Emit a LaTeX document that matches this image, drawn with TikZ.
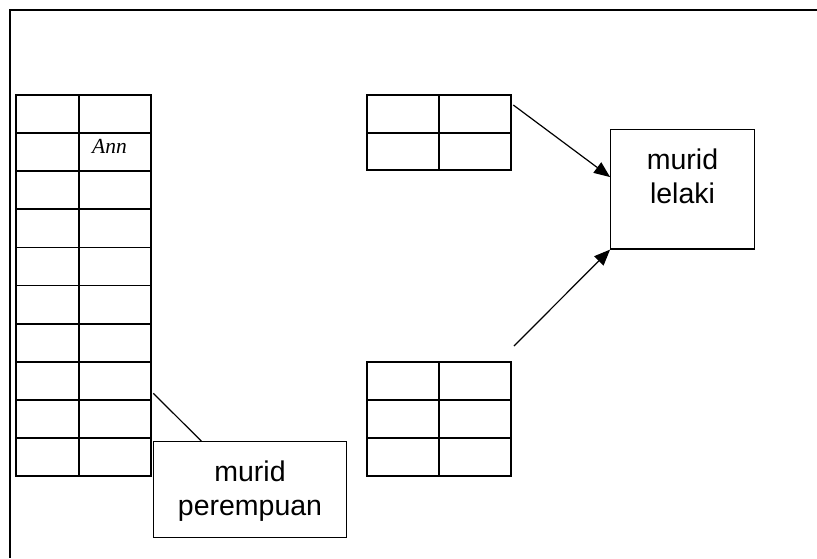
\documentclass[tikz,border=0pt]{standalone}
\usepackage{fontspec}
\setmainfont{Liberation Sans}
\newfontfamily\annfont{Liberation Serif}
\usetikzlibrary{arrows.meta,calc}
\tikzset{
  tbl/.style={draw, line width=1.8pt, inner sep=0pt, minimum width=#1},
  tbl/.default=144.3pt,
  grid/.style={line width=1.8pt},
  boxnode/.style={draw, line width=1.2pt, inner sep=0pt},
  boxtext/.style={inner sep=0pt, anchor=north, align=center, font=\fontsize{28.5pt}{34pt}\selectfont},
  conn/.style={line width=1.2pt},
  arr/.style={line width=1.2pt, -{Triangle[length=16pt,width=13pt]}},
  frameline/.style={line width=2pt}
}
\begin{document}
\begin{tikzpicture}[x=1pt,y=-1pt]
\useasboundingbox (0,0) rectangle (817,558);
% outer frame (only top and left visible)
\draw[frameline] (817,10) -- (10,10) -- (10,558);

% left table: 10 rows x 2 columns
\node[tbl=134.7pt, minimum height=381pt] (L) at (83.35,285.5) {};
\draw[grid] (79,95) -- (79,476);
\foreach \i in {1,...,9} {
  \draw[grid] (16,{95+38.1*\i}) -- (150.7,{95+38.1*\i});
}
\node[font=\annfont\itshape\fontsize{21.5pt}{24pt}\selectfont, inner sep=0pt, anchor=base] (ann) at (109.5,153) {Ann};

% top right table: 2 rows
\node[tbl, minimum height=75.3pt] (TR) at (438.85,132.65) {};
\draw[grid] (439,95) -- (439,170.3);
\draw[grid] (366.7,132.7) -- (511,132.7);

% bottom right table: 3 rows
\node[tbl, minimum height=114pt] (BR) at (438.85,418.7) {};
\draw[grid] (439,361.7) -- (439,475.7);
\draw[grid] (366.7,399.7) -- (511,399.7);
\draw[grid] (366.7,437.7) -- (511,437.7);

% murid lelaki box
\node[boxnode, minimum width=143.6pt, minimum height=119.7pt] (lel) at (682.5,189.15) {};
\node[boxtext] (leltxt) at (682.5,149) {murid\\lelaki};

% murid perempuan box
\node[boxnode, minimum width=193.4pt, minimum height=95.6pt] (per) at (250,489.5) {};
\node[boxtext] (pertxt) at (250,461) {murid\\perempuan};

% connectors
\coordinate (s1) at (513.3,105);
\coordinate (s2) at (514,346);
\coordinate (s3) at (153.3,393.3);
\draw[arr] (s1) -- ($(lel.north west)!0.4!(lel.south west)$);
\draw[arr] (s2) -- (lel.south west);
\draw[conn] (s3) -- ($(per.north west)!0.25!(per.north east)$);
\end{tikzpicture}
\end{document}
